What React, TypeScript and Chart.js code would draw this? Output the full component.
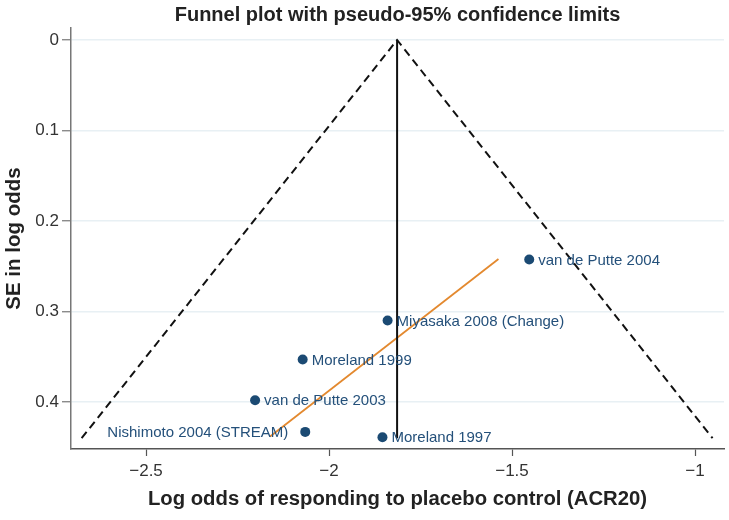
import React, { useEffect, useRef } from "react";
import { Chart, registerables } from "chart.js";

Chart.register(...registerables);

const studyNames = [
  "van de Putte 2004",
  "Miyasaka 2008 (Change)",
  "Moreland 1999",
  "van de Putte 2003",
  "Nishimoto 2004 (STREAM)",
  "Moreland 1997",
];
const studyLogOdds = [-1.453, -1.84, -2.072, -2.202, -2.065, -1.854];
const studySE = [0.2425, 0.31, 0.353, 0.398, 0.433, 0.439];
const labelSide = ["right", "right", "right", "right", "left", "right"];

const funnelX = [-2.676, -1.814, -0.952];
const funnelY = [0.44, 0, 0.44];
const pooledX = [-1.814, -1.814];
const pooledY = [0, 0.44];
const eggerX = [-2.161, -1.537];
const eggerY = [0.438, 0.242];

const xTicks = [-2.5, -2, -1.5, -1];
const yTicks = [0, 0.1, 0.2, 0.3, 0.4];

const FONT = "'Liberation Sans', Arial, sans-serif";

const zip = (xs: number[], ys: number[]) => xs.map((x, i) => ({ x, y: ys[i] }));

const labelPlugin = {
  id: "studyLabels",
  afterDatasetsDraw(chart: any) {
    const meta = chart.getDatasetMeta(3);
    const ctx = chart.ctx;
    ctx.save();
    ctx.font = `15px ${FONT}`;
    ctx.fillStyle = "#24507a";
    ctx.textBaseline = "middle";
    meta.data.forEach((pt: any, i: number) => {
      if (labelSide[i] === "left") {
        ctx.textAlign = "right";
        ctx.fillText(studyNames[i], pt.x - 17, pt.y + 1);
      } else {
        ctx.textAlign = "left";
        ctx.fillText(studyNames[i], pt.x + 9, pt.y + 1);
      }
    });
    ctx.restore();
  },
};

export default function App() {
  const ref = useRef<HTMLCanvasElement>(null);
  useEffect(() => {
    const chart = new Chart(ref.current!, {
      type: "scatter",
      data: {
        datasets: [
          {
            type: "line",
            data: zip(funnelX, funnelY),
            borderColor: "#111",
            borderWidth: 2,
            borderDash: [8, 5],
            pointRadius: 0,
            fill: false,
          },
          {
            type: "line",
            data: zip(pooledX, pooledY),
            borderColor: "#111",
            borderWidth: 2,
            pointRadius: 0,
            fill: false,
          },
          {
            type: "line",
            data: zip(eggerX, eggerY),
            borderColor: "#e3892f",
            borderWidth: 1.8,
            pointRadius: 0,
            fill: false,
          },
          {
            type: "scatter",
            data: zip(studyLogOdds, studySE),
            backgroundColor: "#1b4a73",
            borderColor: "#1b4a73",
            pointRadius: 5,
            borderWidth: 0,
          },
        ],
      } as any,
      options: {
        animation: false,
        responsive: true,
        maintainAspectRatio: false,
        layout: { padding: { right: 5, left: 0, top: 0, bottom: 0 } },
        plugins: {
          legend: { display: false },
          tooltip: { enabled: false },
          title: {
            display: true,
            fullSize: false,
            text: "Funnel plot with pseudo-95% confidence limits",
            color: "#222",
            font: { family: FONT, size: 20, weight: "bold" },
            padding: { top: 3, bottom: 1 },
          },
        },
        scales: {
          x: {
            type: "linear",
            min: -2.705,
            max: -0.9208,
            afterBuildTicks: (s: any) => {
              s.ticks = xTicks.map((v) => ({ value: v }));
            },
            afterFit: (s: any) => {
              s.height = 71;
            },
            ticks: {
              color: "#333",
              font: { family: FONT, size: 17 },
              padding: 5,
              maxRotation: 0,
              callback: (v: any) => String(v).replace("-", "\u2212"),
            },
            grid: {
              drawOnChartArea: false,
              tickLength: 7,
              tickColor: "#555",
              tickWidth: 1.2,
            },
            border: { color: "#555", width: 1.5 },
            title: {
              display: true,
              text: "Log odds of responding to placebo control (ACR20)",
              color: "#222",
              font: { family: FONT, size: 20.3, weight: "bold" },
              padding: { top: 0, bottom: 8 },
            },
          },
          y: {
            type: "linear",
            reverse: true,
            min: -0.01326,
            max: 0.4519,
            afterBuildTicks: (s: any) => {
              s.ticks = yTicks.map((v) => ({ value: v }));
            },
            afterFit: (s: any) => {
              s.width = 71;
            },
            ticks: {
              color: "#333",
              font: { family: FONT, size: 17 },
              padding: 3,
              callback: (v: any) => String(v),
            },
            grid: {
              color: "#e8f0f4",
              lineWidth: 1.5,
              tickLength: 9,
              tickColor: "#777",
              tickWidth: 1.2,
            },
            border: { color: "#777", width: 1.5 },
            title: {
              display: true,
              text: "SE in log odds",
              color: "#222",
              font: { family: FONT, size: 20.5, weight: "bold" },
              padding: { top: 2, bottom: 0 },
            },
          },
        },
      } as any,
      plugins: [labelPlugin],
    });
    return () => chart.destroy();
  }, []);
  return (
    <div style={{ position: "fixed", left: 0, top: 0, width: 729, height: 520, background: "#fff" }}>
      <canvas ref={ref} />
    </div>
  );
}
